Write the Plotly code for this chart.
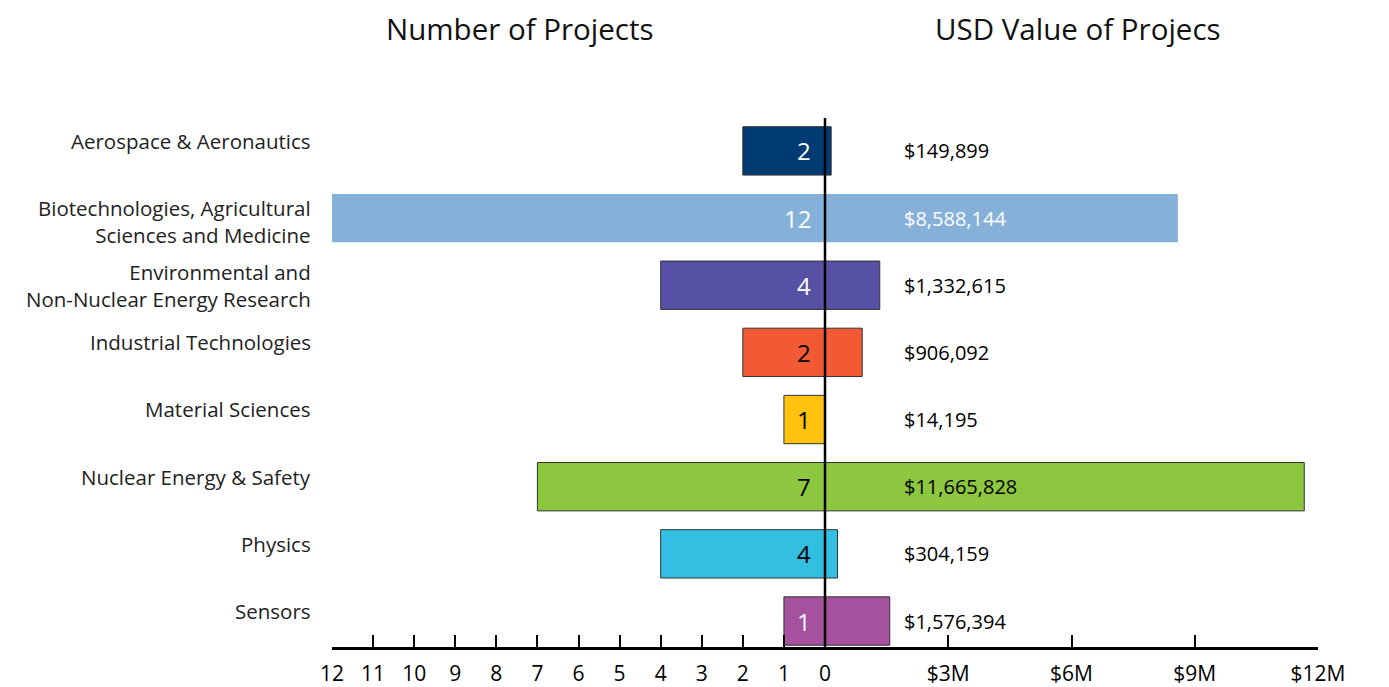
import plotly.graph_objects as go

categories = ["Aerospace & Aeronautics",
              "Biotechnologies, Agricultural<br>Sciences and Medicine",
              "Environmental and<br>Non-Nuclear Energy Research",
              "Industrial Technologies",
              "Material Sciences",
              "Nuclear Energy & Safety",
              "Physics",
              "Sensors"]
project_counts = [2, 12, 4, 2, 1, 7, 4, 1]
usd_values = [149899, 8588144, 1332615, 906092, 14195, 11665828, 304159, 1576394]
colors = ["#003b73", "#85b1d9", "#5651a5", "#f15a35", "#ffc20e", "#8dc63f", "#33bfe2", "#a5519e"]
count_text_colors = ["white", "white", "white", "black", "black", "black", "black", "white"]
usd_text_colors = ["black", "white", "black", "black", "black", "black", "black", "black"]
label_offsets = [-0.15, 0.05, 0.0, -0.15, -0.15, -0.15, -0.15, -0.15]

left_ticks = list(range(-12, 1))
left_labels = [str(-v) for v in left_ticks]
right_ticks = [3, 6, 9, 12]
right_labels = ["$3M", "$6M", "$9M", "$12M"]

ypos = list(range(len(categories)))
outline_w = [0 if c == "#85b1d9" else 1 for c in colors]

fig = go.Figure()
fig.add_trace(go.Bar(y=ypos, x=[-c for c in project_counts], orientation="h",
                     marker=dict(color=colors, line=dict(color="#333333", width=outline_w)),
                     width=0.72, hoverinfo="skip"))
fig.add_trace(go.Bar(y=ypos, x=[v / 1e6 for v in usd_values], orientation="h",
                     marker=dict(color=colors, line=dict(color="#333333", width=outline_w)),
                     width=0.72, hoverinfo="skip"))

ann = []
for i, cat in enumerate(categories):
    ann.append(dict(x=-0.0193, xref="paper", y=i + label_offsets[i], yref="y", text=cat,
                    showarrow=False, xanchor="right", yanchor="middle", align="right",
                    font=dict(size=20.5, color="#222222")))
    ann.append(dict(x=-0.3, xref="x", y=i, yref="y", text=str(project_counts[i]),
                    showarrow=False, xanchor="right", yanchor="middle",
                    font=dict(size=24, color=count_text_colors[i])))
    ann.append(dict(x=1.87, xref="x", y=i, yref="y", text="${:,}".format(usd_values[i]),
                    showarrow=False, xanchor="left", yanchor="middle",
                    font=dict(size=20, color=usd_text_colors[i])))

ann.append(dict(x=0.1907, xref="paper", y=1.17, yref="paper", text="Number of Projects",
                showarrow=False, xanchor="center", yanchor="middle", font=dict(size=29.5, color="#111111")))
ann.append(dict(x=0.7566, xref="paper", y=1.17, yref="paper", text="USD Value of Projecs",
                showarrow=False, xanchor="center", yanchor="middle", font=dict(size=29.5, color="#111111")))

fig.update_layout(
    width=1381, height=679,
    margin=dict(l=324, r=71, t=110, b=40, autoexpand=False),
    paper_bgcolor="white", plot_bgcolor="white",
    barmode="overlay", showlegend=False,
    font=dict(family="Open Sans, Noto Sans, sans-serif", color="#111111"),
    xaxis=dict(range=[-12, 12], tickvals=left_ticks + right_ticks, ticktext=left_labels + right_labels,
               ticks="inside", ticklen=12, tickwidth=2, tickcolor="black", ticklabelstandoff=6,
               showline=True, linecolor="black", linewidth=2.5, showgrid=False, zeroline=False,
               tickfont=dict(size=21, family="Liberation Sans Narrow, Open Sans, sans-serif", color="black"),
               automargin=False, fixedrange=True),
    yaxis=dict(range=[7.387, -0.49], showticklabels=False, showgrid=False, zeroline=False,
               ticks="", automargin=False, fixedrange=True),
    annotations=ann,
    shapes=[dict(type="line", xref="x", yref="paper", x0=0, x1=0, y0=0, y1=1,
                 line=dict(color="black", width=2.5), layer="above")],
)

fig.write_html("out.html")
